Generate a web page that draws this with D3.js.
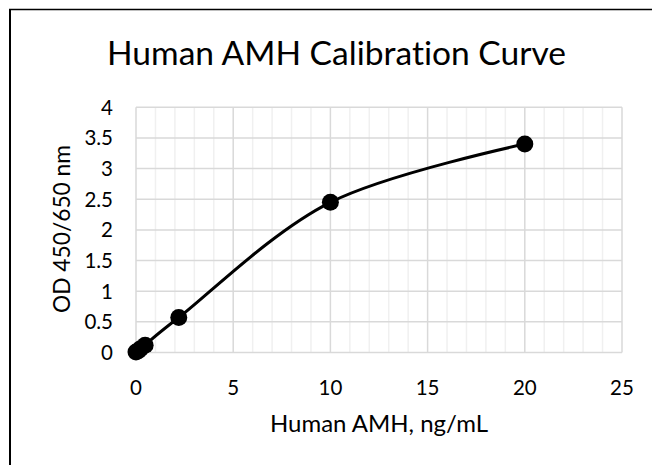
<!DOCTYPE html>
<html>
<head>
<meta charset="utf-8">
<script src="https://cdn.jsdelivr.net/npm/d3@7"></script>
<style>
  html, body { margin: 0; padding: 0; background: #fff; }
  svg { display: block; }
  text { font-family: Lato, "Open Sans", "Liberation Sans", sans-serif; fill: #000; font-variant-ligatures: none; }
</style>
</head>
<body>
<svg id="chart" width="652" height="465"></svg>
<script>
// ---- data ----
const concentrations = [0, 0.12, 0.23, 0.47, 2.2, 10, 20];   // ng/mL
const odValues       = [0.01, 0.03, 0.06, 0.12, 0.57, 2.45, 3.4];
const xTicks = [0, 5, 10, 15, 20, 25];
const yTicks = [0, 0.5, 1, 1.5, 2, 2.5, 3, 3.5, 4];
const xMinorTicks = d3.range(0, 26, 1);
const titleText = "Human AMH Calibration Curve";
const xLabelText = "Human AMH, ng/mL";
const yLabelText = "OD 450/650 nm";

const svg = d3.select("#chart");
const W = 652, H = 465;

// frame
svg.append("rect").attr("x", 0).attr("y", 0).attr("width", W).attr("height", H).attr("fill", "#fff");
svg.append("line").attr("x1", 9).attr("x2", W).attr("y1", 9.6).attr("y2", 9.6).attr("stroke", "#000").attr("stroke-width", 1.5);
svg.append("line").attr("x1", 10).attr("x2", 10).attr("y1", 9).attr("y2", H).attr("stroke", "#000").attr("stroke-width", 2);

const x = d3.scaleLinear().domain([0, 25]).range([136, 622]);
const y = d3.scaleLinear().domain([0, 4]).range([352.5, 107.3]);

// minor vertical grid
svg.append("g").selectAll("line").data(xMinorTicks.filter(d => d % 5 !== 0)).join("line")
  .attr("x1", d => x(d)).attr("x2", d => x(d))
  .attr("y1", y(4)).attr("y2", y(0))
  .attr("stroke", "#f0f0f0").attr("stroke-width", 1.5);

// major vertical grid
svg.append("g").selectAll("line").data(xTicks).join("line")
  .attr("x1", d => x(d)).attr("x2", d => x(d))
  .attr("y1", y(4)).attr("y2", y(0))
  .attr("stroke", "#d9d9d9").attr("stroke-width", 1.5);

// horizontal grid
svg.append("g").selectAll("line").data(yTicks).join("line")
  .attr("x1", x(0)).attr("x2", x(25))
  .attr("y1", d => y(d)).attr("y2", d => y(d))
  .attr("stroke", "#d9d9d9").attr("stroke-width", 1.5);

// tick labels
const tickFs = 20.5;
svg.append("g").selectAll("text").data(xTicks).join("text")
  .attr("x", d => x(d)).attr("y", 395)
  .attr("text-anchor", "middle").attr("font-size", tickFs)
  .text(d => d);

svg.append("g").selectAll("text").data(yTicks).join("text")
  .attr("x", 113).attr("y", d => y(d))
  .attr("dy", "0.36em")
  .attr("text-anchor", "end").attr("font-size", tickFs)
  .text(d => d);

// curve
const pts = concentrations.map((c, i) => [c, odValues[i]]);
const line = d3.line().x(d => x(d[0])).y(d => y(d[1])).curve(d3.curveCardinal.tension(0));
svg.append("path").attr("d", line(pts))
  .attr("fill", "none").attr("stroke", "#000").attr("stroke-width", 3);

svg.append("g").selectAll("circle").data(pts).join("circle")
  .attr("cx", d => x(d[0])).attr("cy", d => y(d[1])).attr("r", 8.5)
  .attr("fill", "#000");

// title
svg.append("text").attr("x", 336.5).attr("y", 65)
  .attr("text-anchor", "middle").attr("font-size", 32)
  .attr("textLength", 459).attr("lengthAdjust", "spacingAndGlyphs")
  .text(titleText);

// x label
svg.append("text").attr("x", 379).attr("y", 432)
  .attr("text-anchor", "middle").attr("font-size", 23.5)
  .attr("textLength", 218).attr("lengthAdjust", "spacingAndGlyphs")
  .text(xLabelText);

// y label
svg.append("text")
  .attr("transform", "translate(70,229) rotate(-90)")
  .attr("text-anchor", "middle").attr("font-size", 24)
  .attr("textLength", 168).attr("lengthAdjust", "spacingAndGlyphs")
  .text(yLabelText);
</script>
</body>
</html>
